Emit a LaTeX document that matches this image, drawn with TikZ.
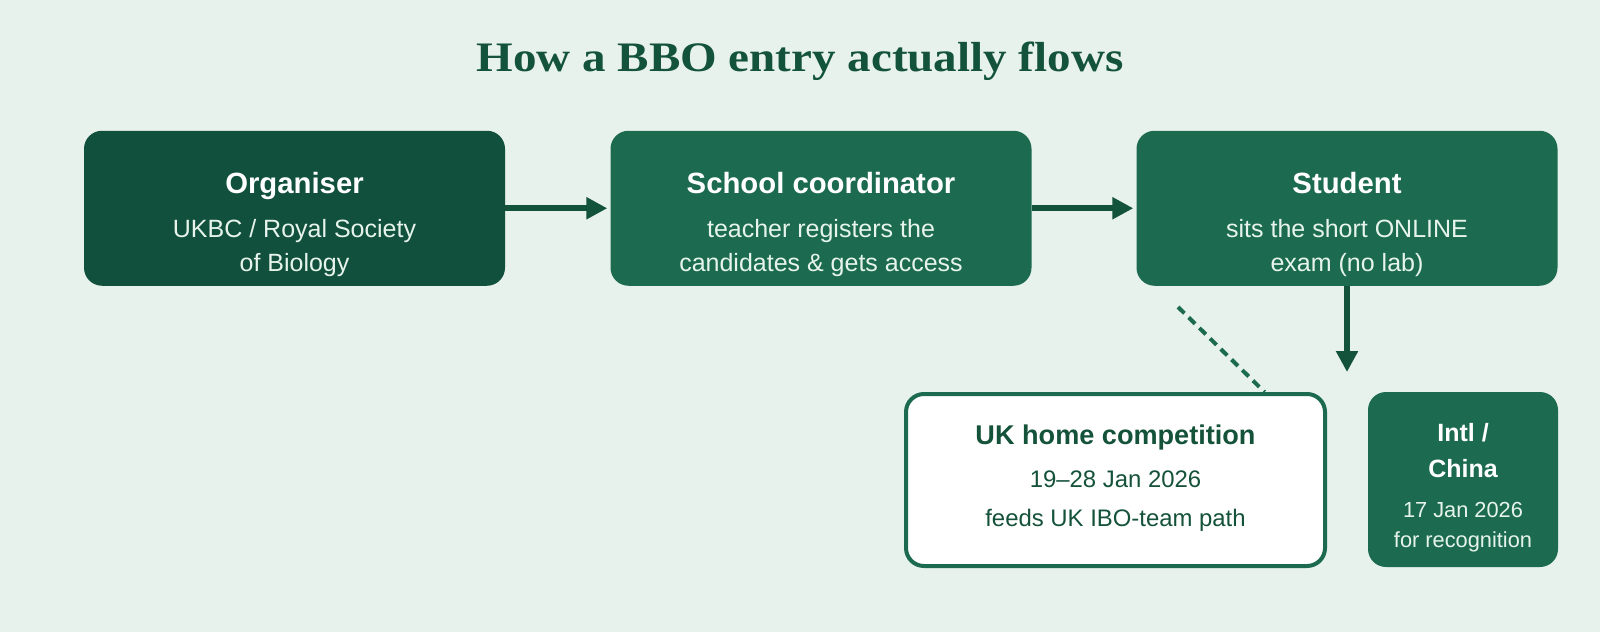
\documentclass[tikz,border=0pt]{standalone}
\usepackage{fontspec}
\setmainfont{Liberation Sans}
\newfontfamily\titlefont[FakeStretch=1.12]{Liberation Serif}
\usetikzlibrary{arrows.meta,calc}
\definecolor{bgc}{HTML}{E8F2EC}
\definecolor{titc}{HTML}{14533B}
\definecolor{orgc}{HTML}{11503C}
\definecolor{midc}{HTML}{1C6B50}
\definecolor{arrc}{HTML}{13533B}
\definecolor{subc}{HTML}{E6F4EC}
\definecolor{ukt}{HTML}{14523A}
\begin{document}
\begin{tikzpicture}[x=1pt,y=-1pt,
  box/.style={rounded corners=18pt, inner sep=0pt, minimum width=421pt, minimum height=155pt},
  darkbox/.style={box, fill=orgc},
  midbox/.style={box, fill=midc},
  ukbox/.style={rounded corners=18pt, inner sep=0pt, draw=midc, line width=4pt, fill=white, minimum width=419pt, minimum height=172pt},
  intlbox/.style={rounded corners=18pt, inner sep=0pt, fill=midc, minimum width=190pt, minimum height=175pt},
  hd/.style={anchor=base, inner sep=0pt, text=white, font=\fontsize{29.3}{35}\selectfont\bfseries},
  sub/.style={anchor=base, inner sep=0pt, text=subc, font=\fontsize{25}{30}\selectfont},
  ukhd/.style={anchor=base, inner sep=0pt, text=ukt, font=\fontsize{27.1}{33}\selectfont\bfseries},
  uksub/.style={anchor=base, inner sep=0pt, text=ukt, font=\fontsize{23.9}{29}\selectfont},
  inhd/.style={anchor=base, inner sep=0pt, text=white, font=\fontsize{25}{30}\selectfont\bfseries},
  insub/.style={anchor=base, inner sep=0pt, text=subc, font=\fontsize{21.8}{26}\selectfont},
  arr/.style={draw=arrc, line width=6pt, -{Triangle[length=21pt,width=21pt]}},
  dashln/.style={draw=midc, line width=4pt, dash pattern=on 9pt off 6pt}
]
\path[use as bounding box, fill=bgc] (0,0) rectangle (1600,632);

% title
\node[anchor=base, inner sep=0pt, text=titc, font=\titlefont\fontsize{42}{50}\selectfont\bfseries] (title) at (800,71.7) {How a BBO entry actually flows};

% top row boxes
\node[darkbox] (org) at (294.5,208.25) {};
\node[midbox] (sch) at (821,208.25) {};
\node[midbox] (stu) at (1347,208.25) {};

\node[hd] (orgT) at (294.5,193.3) {Organiser};
\node[sub] (orgA) at (294.5,237.5) {UKBC / Royal Society};
\node[sub] (orgB) at (294.5,271) {of Biology};

\node[hd] (schT) at (821,193.3) {School coordinator};
\node[sub] (schA) at (821,237.5) {teacher registers the};
\node[sub] (schB) at (821,271) {candidates \& gets access};

\node[hd] (stuT) at (1347,193.3) {Student};
\node[sub] (stuA) at (1347,237.5) {sits the short ONLINE};
\node[sub] (stuB) at (1347,271) {exam (no lab)};

% bottom boxes
\node[ukbox] (uk) at (1115.5,480) {};
\node[ukhd] (ukT) at (1115.5,444) {UK home competition};
\node[uksub] (ukA) at (1115.5,487.3) {19–28 Jan 2026};
\node[uksub] (ukB) at (1115.5,526.7) {feeds UK IBO-team path};

\node[intlbox] (intl) at (1463,479.5) {};
\node[inhd] (inT1) at (1463,441.7) {Intl /};
\node[inhd] (inT2) at (1463,477.3) {China};
\node[insub] (inA) at (1463,517.7) {17 Jan 2026};
\node[insub] (inB) at (1463,547.7) {for recognition};

% connectors
\draw[arr, shorten >=3pt] (org.east) -- (sch.west);
\draw[arr, shorten >=3pt] (sch.east) -- (stu.west);
\coordinate (vEnd) at (1347,372);
\draw[arr] (stu.south) -- (vEnd);
\coordinate (dA) at (1178,307);
\draw[dashln] (dA) -- ($(uk.north)+(149,0)$);
\end{tikzpicture}
\end{document}
